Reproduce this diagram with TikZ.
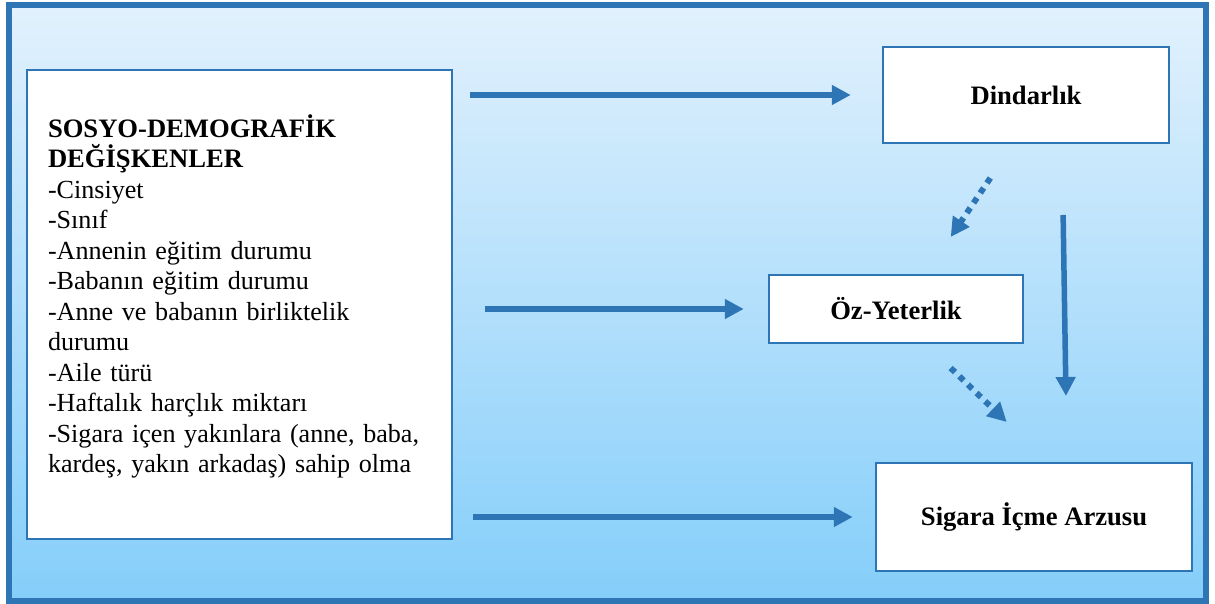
\documentclass[tikz,border=0pt]{standalone}
\usepackage{fontspec}
\setmainfont{Liberation Serif}
\usepackage{tikz}
\usetikzlibrary{arrows.meta, positioning, calc}

\definecolor{frameblue}{HTML}{2E75B6}
\definecolor{bgtop}{HTML}{E2F1FD}
\definecolor{bgmid}{HTML}{D8EEFD}
\definecolor{bgbottom}{HTML}{84CEFA}

\begin{document}
\begin{tikzpicture}[x=1pt, y=-1pt,
		box/.style={draw=frameblue, line width=2.5pt, fill=white, inner sep=0pt,
			font=\bfseries\fontsize{26.6}{30.5}\selectfont},
		arr/.style={frameblue, line width=5.5pt, -{Triangle[length=19pt, width=19pt]}},
		dotarr/.style={arr, line width=6pt, dash pattern=on 6pt off 6pt}]
		\useasboundingbox (0,0) rectangle (1215,604);
		% Background
		\shade[top color=bgtop, middle color=bgmid, bottom color=bgbottom] (9,5.5) rectangle (1206,601);
		\draw[frameblue, line width=6pt] (9,5.5) rectangle (1206,601);

		% Boxes
		\node[box, minimum width=286pt, minimum height=96pt] (din) at (1026,95) {Dindarlık};
		\node[box, minimum width=254pt, minimum height=68pt] (oz) at (896,309) {Öz-Yeterlik};
		\node[box, minimum width=316pt, minimum height=108pt] (sig) at (1034,517) {Sigara İçme Arzusu};
		\node[box, font=\fontsize{26.1}{30.5}\selectfont, text width=383pt, inner xsep=21pt,
			align=left, minimum height=469pt, text depth=357pt] (sdv) at (239.5,304.5)
			{{\fontsize{26.6}{30.5}\selectfont\bfseries SOSYO-DEMOGRAFİK}\\
			{\fontsize{26.6}{30.5}\selectfont\bfseries DEĞİŞKENLER}\\
			-Cinsiyet\\
			-Sınıf\\
			-Annenin eğitim durumu\\
			-Babanın eğitim durumu\\
			-Anne ve babanın birliktelik\\
			durumu\\
			-Aile türü\\
			-Haftalık harçlık miktarı\\
			-Sigara içen yakınlara (anne, baba,\\
			kardeş, yakın arkadaş) sahip olma};

		% Arrows
		\draw[arr, shorten <=17pt, shorten >=31pt] (sdv.east |- din.west) -- (din.west);
		\draw[arr, shorten <=32pt, shorten >=24pt] (sdv.east |- oz.west) -- (oz.west);
		\draw[arr, shorten <=20pt, shorten >=22pt] (sdv.east |- sig.west) -- (sig.west);
		\draw[arr, shorten <=70.75pt, shorten >=65.75pt] ([xshift=36pt]din.south) -- ([xshift=33pt]sig.north);
		\draw[dotarr, shorten <=40.7pt, shorten >=44.3pt] ([xshift=-13pt]din.south) -- ([xshift=30pt]oz.north);
		\draw[dotarr, shorten <=34.2pt, shorten >=57.3pt] ([xshift=30pt]oz.south) -- ([xshift=14pt]sig.north);
	\end{tikzpicture}
\end{document}
